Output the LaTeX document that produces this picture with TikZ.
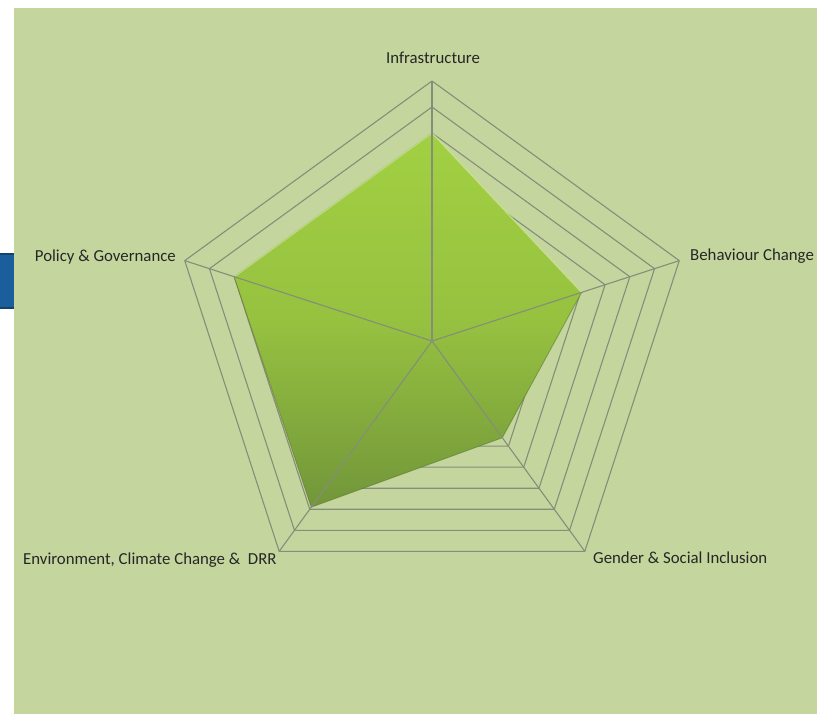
\documentclass[tikz,border=0pt]{standalone}
\usepackage{fontspec}
\setmainfont{Carlito}

\definecolor{chartbg}{HTML}{C4D69E}
\definecolor{gridgray}{HTML}{848E7A}
\definecolor{limetop}{HTML}{A2D042}
\definecolor{olivebot}{HTML}{72963A}
\definecolor{tabblue}{HTML}{1A5F9C}

\begin{document}
\begin{tikzpicture}[x=1pt, y=1pt, line join=round,
                    grid/.style={gridgray, line width=1.1pt},
                    axlabel/.style={font=\fontsize{16.8}{19}\selectfont,
                                    text=black!85, inner sep=0pt}
                   ]

        \pgfmathsetmacro{\R}{260}
        \pgfmathsetmacro{\nrings}{10}
        \pgfmathsetmacro{\dr}{\R/\nrings}

        \useasboundingbox (0,0) rectangle (817,714);
        \fill [chartbg] (14,0) rectangle (817,706);
        \fill [tabblue] (0,405) rectangle (14,461);
        \draw [tabblue!70!black, line width=2pt] (0,460) -- (14,460) (0,406) -- (14,406);

        \coordinate (o) at (432,373);

        % axis ends and scores
        \foreach \name/\ang/\val in {infra/90/8, behav/18/6.05, gender/-54/4.6,
                                     env/-126/7.9, policy/162/8}{
            \coordinate (\name-out) at ([shift={(\ang:\R)}]o);
            \coordinate (\name-val) at ([shift={(\ang:\val*\dr)}]o);
        }

        \foreach \k in {1,...,\nrings}{
            \draw [grid] ([shift={(90:\k*\dr)}]o)
                \foreach \a in {18,-54,-126,162}{ -- ([shift={(\a:\k*\dr)}]o)} -- cycle;
        }

        \shade [top color=limetop, bottom color=olivebot, middle color=limetop!75!olivebot]
                (infra-val) -- (behav-val) -- (gender-val) -- (env-val) -- (policy-val) -- cycle;
        \draw [limetop!55!white, line width=1.4pt, opacity=0.7]
                (policy-val) -- (infra-val) -- (behav-val);
        \draw [olivebot!75!black, line width=0.9pt, opacity=0.5]
                (behav-val) -- (gender-val) -- (env-val) -- (policy-val);

        \foreach \name in {infra,behav,gender,env,policy}
            \draw [grid] (o) -- (\name-out);

        \node [axlabel] (infra-lbl)  at (433,656) {Infrastructure};
        \node [axlabel, anchor=west] (behav-lbl)  at (690,458) {Behaviour Change};
        \node [axlabel, anchor=east] (policy-lbl) at (176,457) {Policy \& Governance};
        \node [axlabel, anchor=west] (gender-lbl) at (593,156) {Gender \& Social Inclusion};
        \node [axlabel, anchor=west] (env-lbl)    at (23,154)  {Environment, Climate Change \&\ \ DRR};
    \end{tikzpicture}
\end{document}
